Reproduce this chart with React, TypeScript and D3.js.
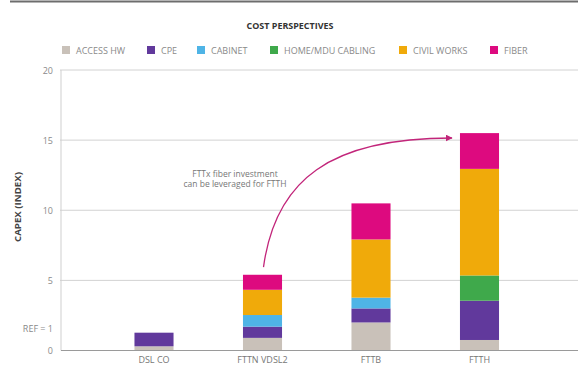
import React from "react";
import * as d3 from "d3";

const categories = ["DSL CO", "FTTN VDSL2", "FTTB", "FTTH"];
const seriesNames = ["ACCESS HW", "CPE", "CABINET", "HOME/MDU CABLING", "CIVIL WORKS", "FIBER"];
const seriesColors = ["#c9c1b9", "#61399c", "#4fb4e6", "#3fa94b", "#f0aa0a", "#dd0a7f"];
const accessHw = [0.3, 0.9, 2.0, 0.75];
const cpe = [0.97, 0.8, 1.0, 2.8];
const cabinet = [0, 0.83, 0.77, 0];
const homeCabling = [0, 0, 0, 1.8];
const civilWorks = [0, 1.8, 4.15, 7.6];
const fiber = [0, 1.07, 2.57, 2.55];
const yTickValues = [0, 1.6, 5, 10, 15, 20];
const yTickLabels = ["0", "REF = 1", "5", "10", "15", "20"];
const gridValues = [5, 10, 15, 20];

const W = 580, H = 365;
const FONT = "'Open Sans', 'Noto Sans', sans-serif";

export default function App() {
  const series = [accessHw, cpe, cabinet, homeCabling, civilWorks, fiber];
  const rows = categories.map((c, i) => {
    const r: any = { cat: c };
    seriesNames.forEach((s, j) => (r[s] = series[j][i]));
    return r;
  });
  const stacked = d3.stack().keys(seriesNames)(rows);

  const y = d3.scaleLinear().domain([0, 20]).range([350.5, 70]);
  const x = d3.scaleBand().domain(categories).range([99.75, 533.75]).paddingInner(0.64).paddingOuter(0.32);

  // legend layout
  const legendX = [62, 147, 197, 270, 399, 490];

  const arrow = d3.path();
  const x1 = x("FTTN VDSL2")! + x.bandwidth() / 2 + 1;
  const y1 = y(5.4 + 0.55);
  const x2 = x("FTTH")! - 8;
  const y2 = y(15.15);
  arrow.moveTo(x1, y1);
  arrow.bezierCurveTo(x1 + 12, y(12.2), x1 + 67, y2, x2, y2);

  return (
    <svg width={W} height={H} style={{ position: "absolute", left: 0, top: 0, background: "#fff" }}>
      <defs>
        <marker id="ah" viewBox="0 0 10 10" refX="9" refY="5" markerWidth="7" markerHeight="7" orient="auto" markerUnits="userSpaceOnUse">
          <path d="M0,0 L10,5 L0,10 z" fill="#c2257a" />
        </marker>
      </defs>
      <line x1={10} x2={578} y1={1.5} y2={1.5} stroke="#6d6d6d" strokeWidth={2} />
      <text x={290} y={29} textAnchor="middle" fontFamily={FONT} fontSize={8.8} fontWeight="bold" fill="#333" textLength={87} lengthAdjust="spacingAndGlyphs">
        COST PERSPECTIVES
      </text>
      {seriesNames.map((s, i) => (
        <g key={s}>
          <rect x={legendX[i]} y={46} width={8} height={8} fill={seriesColors[i]} />
          <text x={legendX[i] + 14} y={53.5} fontFamily={FONT} fontSize={9} fill="#8a8a8a">
            {s}
          </text>
        </g>
      ))}
      {gridValues.map((v) => (
        <line key={v} x1={60} x2={578} y1={y(v)} y2={y(v)} stroke="#d2d2d2" strokeWidth={1} />
      ))}
      <line x1={61} x2={61} y1={y(20)} y2={y(0)} stroke="#cfcfcf" strokeWidth={1} />
      {stacked.map((layer, j) => (
        <g key={layer.key} fill={seriesColors[j]}>
          {layer.map((d, i) =>
            d[1] - d[0] > 0 ? (
              <rect key={i} x={x(categories[i])} y={y(d[1])} width={x.bandwidth()} height={y(d[0]) - y(d[1])} />
            ) : null
          )}
        </g>
      ))}
      <line x1={61} x2={578} y1={y(0)} y2={y(0)} stroke="#9a9a9a" strokeWidth={1.2} />
      {yTickValues.map((v, i) => (
        <text key={v} x={53} y={y(v) + 3.5} textAnchor="end" fontFamily={FONT} fontSize={9} fill="#8a8a8a">
          {yTickLabels[i]}
        </text>
      ))}
      <text transform={`translate(20.5,207) rotate(-90)`} textAnchor="middle" fontFamily={FONT} fontSize={8} fontWeight="bold" fill="#444" textLength={70} lengthAdjust="spacingAndGlyphs">
        CAPEX (INDEX)
      </text>
      {categories.map((c) => (
        <text key={c} x={x(c)! + x.bandwidth() / 2} y={363} textAnchor="middle" fontFamily={FONT} fontSize={9} fill="#777">
          {c}
        </text>
      ))}
      <path d={arrow.toString()} fill="none" stroke="#c2257a" strokeWidth={1.3} markerEnd="url(#ah)" />
      <text x={235} y={177} textAnchor="middle" fontFamily={FONT} fontSize={8.5} fill="#777">
        <tspan x={235}>FTTx fiber investment</tspan>
        <tspan x={235} dy={9.5}>can be leveraged for FTTH</tspan>
      </text>
    </svg>
  );
}
